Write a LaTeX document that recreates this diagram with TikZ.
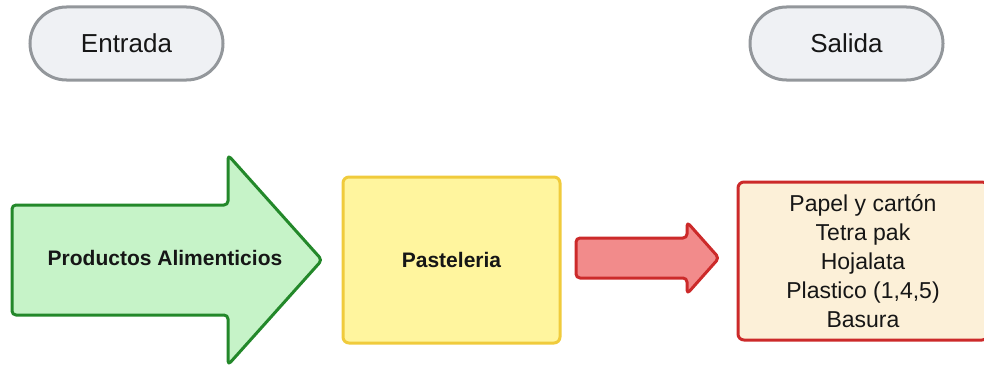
\documentclass[tikz,border=0pt]{standalone}
\usepackage{fontspec}
\setmainfont{Liberation Sans}
\usetikzlibrary{positioning}
\definecolor{pillfill}{HTML}{EFF1F4}
\definecolor{pillline}{HTML}{93979B}
\definecolor{grfill}{HTML}{C6F3C8}
\definecolor{grline}{HTML}{23882A}
\definecolor{yefill}{HTML}{FFF59E}
\definecolor{yeline}{HTML}{F0CB3C}
\definecolor{rdfill}{HTML}{F28B8B}
\definecolor{rdline}{HTML}{CC2A2A}
\definecolor{crfill}{HTML}{FCF0D8}
\definecolor{txt}{HTML}{161616}
\tikzset{
  pill/.style={draw=pillline, fill=pillfill, line width=3pt, rounded corners=36.5pt,
    minimum width=193pt, minimum height=73pt, font=\fontsize{26}{30}\selectfont, text=txt},
  arrowshape/.style={line width=3pt, rounded corners=4pt, line join=round},
  boldlabel/.style={font=\fontsize{21}{25}\selectfont\bfseries, text=txt},
  listlabel/.style={font=\fontsize{23}{29}\selectfont, text=txt, align=center}
}
\begin{document}
\begin{tikzpicture}[x=1pt,y=-1pt]
\useasboundingbox (0,0) rectangle (984,369);
\clip (0,0) rectangle (984,369);
% header pills
\node[pill] (entrada) at (126.5,43.5) {Entrada};
\node[pill] (salida) at (846.5,43.5) {Salida};
% green arrow
\draw[arrowshape, draw=grline, fill=grfill]
  (12,205) -- (228,205) -- (228,155) -- (322,260) -- (228,365) -- (228,315) -- (12,315) -- cycle;
\node[boldlabel] (productos) at (165,258) {Productos Alimenticios};
% yellow box
\node[draw=yeline, fill=yefill, line width=3pt, rounded corners=6pt,
  minimum width=217pt, minimum height=166pt, boldlabel] (pasteleria) at (451.5,260) {Pasteleria};
% red arrow
\draw[arrowshape, draw=rdline, fill=rdfill]
  (576,238) -- (687,238) -- (687,222) -- (719,258) -- (687,294) -- (687,278) -- (576,278) -- cycle;
% output box
\node[draw=rdline, fill=crfill, line width=3pt, rounded corners=6pt,
  minimum width=250pt, minimum height=158pt] (salidabox) at (863,261) {};
\node[listlabel] (lista) at (salidabox.center) {Papel y cartón\\Tetra pak\\Hojalata\\Plastico (1,4,5)\\Basura};
\end{tikzpicture}
\end{document}
